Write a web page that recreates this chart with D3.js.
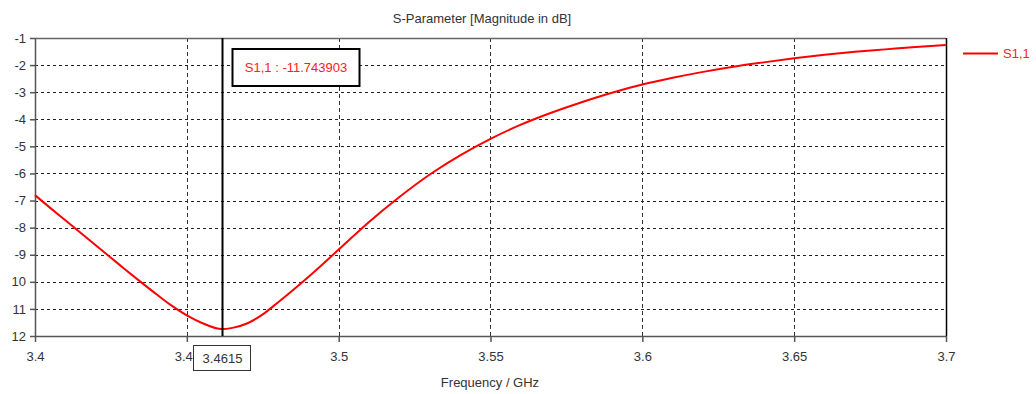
<!DOCTYPE html>
<html>
<head>
<meta charset="utf-8">
<script src="https://cdn.jsdelivr.net/npm/d3@7"></script>
<style>
  html, body { margin: 0; padding: 0; background: #fff; }
  svg { display: block; font-family: "Liberation Sans", Arial, sans-serif; }
</style>
</head>
<body>
<svg id="chart" width="1036" height="394"></svg>
<script>
// S11 magnitude (dB) versus frequency (GHz)
const freqGHz = [3.40, 3.405, 3.41, 3.415, 3.42, 3.425, 3.43, 3.435, 3.44, 3.445,
                 3.45, 3.455, 3.4615, 3.465, 3.47, 3.475, 3.48, 3.485, 3.49, 3.495,
                 3.50, 3.51, 3.52, 3.53, 3.54, 3.55, 3.56, 3.57, 3.58, 3.59,
                 3.60, 3.61, 3.62, 3.63, 3.64, 3.65, 3.66, 3.67, 3.68, 3.69, 3.70];
const s11dB = [-6.80, -7.27, -7.73, -8.19, -8.65, -9.11, -9.57, -10.02, -10.46, -10.88,
               -11.24, -11.52, -11.743903, -11.70, -11.53, -11.20, -10.76, -10.30, -9.82, -9.32,
               -8.81, -7.79, -6.87, -6.04, -5.33, -4.72, -4.20, -3.76, -3.37, -3.02,
               -2.72, -2.47, -2.25, -2.06, -1.90, -1.75, -1.62, -1.51, -1.42, -1.33, -1.26];

const xTicks = [3.4, 3.45, 3.5, 3.55, 3.6, 3.65, 3.7];
const xTickLabels = ["3.4", "3.45", "3.5", "3.55", "3.6", "3.65", "3.7"];
const yTicks = [-1, -2, -3, -4, -5, -6, -7, -8, -9, -10, -11, -12];
const yTickLabels = ["-1", "-2", "-3", "-4", "-5", "-6", "-7", "-8", "-9", "10", "11", "12"];

const markerFreq = 3.4615;
const markerValue = -11.743903;
const seriesName = "S1,1";
const title = "S-Parameter [Magnitude in dB]";
const xTitle = "Frequency / GHz";

const svg = d3.select("#chart");
const plot = { left: 35, right: 946, top: 38, bottom: 336 };

const x = d3.scaleLinear().domain([3.4, 3.7]).range([plot.left, plot.right]);
const y = d3.scaleLinear().domain([-1, -12]).range([plot.top, plot.bottom]);

const fontSize = 13;
const textColor = "#333";

// dashed grid
svg.append("g").selectAll("line")
  .data(yTicks.slice(1, -1))
  .join("line")
  .attr("x1", plot.left).attr("x2", plot.right)
  .attr("y1", d => Math.round(y(d)) + 0.5).attr("y2", d => Math.round(y(d)) + 0.5)
  .attr("stroke", "#222").attr("stroke-width", 1)
  .attr("stroke-dasharray", "3,3");

svg.append("g").selectAll("line")
  .data(xTicks.slice(1, -1))
  .join("line")
  .attr("x1", d => Math.round(x(d)) + 0.5).attr("x2", d => Math.round(x(d)) + 0.5)
  .attr("y1", plot.top).attr("y2", plot.bottom)
  .attr("stroke", "#333").attr("stroke-width", 1)
  .attr("stroke-dasharray", "4,3");

// frame
svg.append("line").attr("x1", plot.left).attr("x2", plot.right)
  .attr("y1", plot.top + 0.5).attr("y2", plot.top + 0.5)
  .attr("stroke", "#666").attr("stroke-width", 1.5);
svg.append("line").attr("x1", plot.right + 0.5).attr("x2", plot.right + 0.5)
  .attr("y1", plot.top).attr("y2", plot.bottom)
  .attr("stroke", "#000").attr("stroke-width", 1.5);

// axes
const xAxis = d3.axisBottom(x).tickValues(xTicks)
  .tickFormat((d, i) => xTickLabels[i]).tickSize(6).tickSizeOuter(0).tickPadding(10);
const gx = svg.append("g").attr("transform", `translate(0,${plot.bottom})`).call(xAxis);
gx.select(".domain").attr("stroke", "#555").attr("stroke-width", 1.5);
gx.selectAll(".tick line").attr("stroke", "#555").attr("stroke-width", 1.5);
gx.selectAll(".tick text").attr("font-size", fontSize)
  .attr("font-family", "Liberation Sans, Arial, sans-serif").attr("fill", textColor);

const yAxis = d3.axisLeft(y).tickValues(yTicks)
  .tickFormat((d, i) => yTickLabels[i]).tickSize(5).tickSizeOuter(0).tickPadding(4);
const gy = svg.append("g").attr("transform", `translate(${plot.left},0)`).call(yAxis);
gy.select(".domain").attr("stroke", "#555").attr("stroke-width", 1.5);
gy.selectAll(".tick line").attr("stroke", "#555").attr("stroke-width", 1.5);
gy.selectAll(".tick text").attr("font-size", fontSize)
  .attr("font-family", "Liberation Sans, Arial, sans-serif").attr("fill", textColor);

// S11 trace
const line = d3.line()
  .x((d, i) => x(freqGHz[i]))
  .y(d => y(d))
  .curve(d3.curveMonotoneX);
svg.append("path")
  .datum(s11dB)
  .attr("d", line)
  .attr("fill", "none")
  .attr("stroke", "#ff0000")
  .attr("stroke-width", 2);

// marker line
const mx = Math.round(x(markerFreq)) + 0.5;
svg.append("line").attr("x1", mx).attr("x2", mx)
  .attr("y1", plot.top).attr("y2", plot.bottom)
  .attr("stroke", "#000").attr("stroke-width", 2);

// marker readout box
const readout = svg.append("g");
readout.append("rect")
  .attr("x", mx + 10).attr("y", 49).attr("width", 127).attr("height", 37)
  .attr("fill", "#fff").attr("stroke", "#000").attr("stroke-width", 2);
readout.append("text")
  .attr("x", mx + 73.5).attr("y", 67.5)
  .attr("text-anchor", "middle").attr("dominant-baseline", "central")
  .attr("font-size", fontSize).attr("fill", "#ff2020")
  .text(`${seriesName} : ${markerValue.toFixed(6)}`);

// marker frequency on the x axis
const fBox = svg.append("g");
fBox.append("rect")
  .attr("x", mx - 29).attr("y", 345.5).attr("width", 57).attr("height", 25)
  .attr("fill", "#fff").attr("stroke", "#333").attr("stroke-width", 1);
fBox.append("text")
  .attr("x", mx).attr("y", 358.5)
  .attr("text-anchor", "middle").attr("dominant-baseline", "central")
  .attr("font-size", fontSize).attr("fill", textColor)
  .text(String(markerFreq));

// titles
svg.append("text").attr("x", 482).attr("y", 18)
  .attr("text-anchor", "middle").attr("dominant-baseline", "central")
  .attr("font-size", fontSize).attr("fill", textColor).text(title);
svg.append("text").attr("x", 490).attr("y", 382)
  .attr("text-anchor", "middle").attr("dominant-baseline", "central")
  .attr("font-size", fontSize).attr("fill", textColor).text(xTitle);

// legend
svg.append("line").attr("x1", 963).attr("x2", 998).attr("y1", 53.5).attr("y2", 53.5)
  .attr("stroke", "#ff0000").attr("stroke-width", 2);
svg.append("text").attr("x", 1003).attr("y", 53.5)
  .attr("dominant-baseline", "central")
  .attr("font-size", fontSize).attr("fill", "#ff2020").text(seriesName);
</script>
</body>
</html>
